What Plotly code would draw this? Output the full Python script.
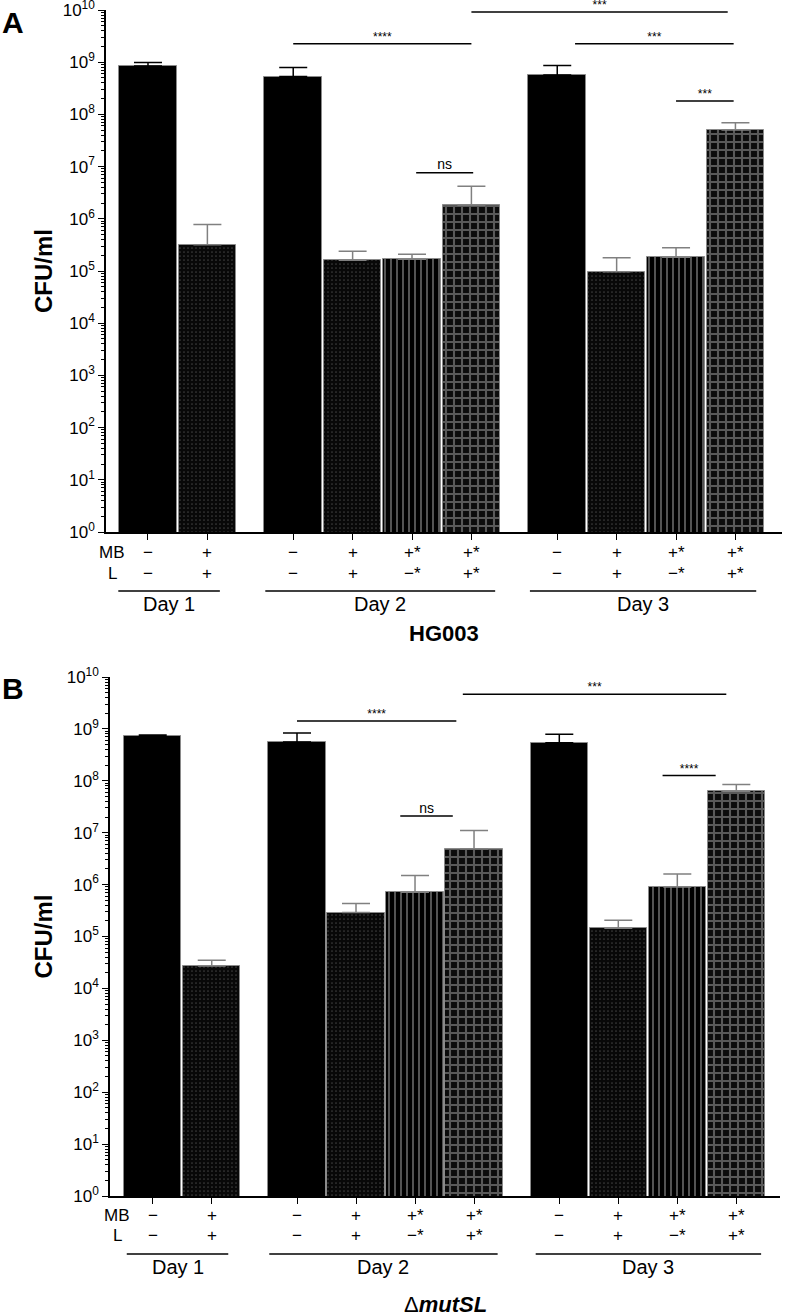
import numpy as np
import plotly.graph_objects as go

W, H = 792, 1316
FONT = "Liberation Sans, Arial, sans-serif"

# ---------------- data ----------------
days = ["Day 1", "Day 2", "Day 3"]
bar_day = [0, 0, 1, 1, 1, 1, 2, 2, 2, 2]
# treatment type: 0 = MB-/L-, 1 = MB+/L+, 2 = MB+*/L-*, 3 = MB+*/L+*
bar_type = [0, 1, 0, 1, 2, 3, 0, 1, 2, 3]
mb_labels = ["\u2212", "+", "\u2212", "+", "+*", "+*", "\u2212", "+", "+*", "+*"]
l_labels = ["\u2212", "+", "\u2212", "+", "\u2212*", "+*", "\u2212", "+", "\u2212*", "+*"]

hg003_mean = [8.5e8, 3.2e5, 5.3e8, 1.6e5, 1.67e5, 1.83e6, 5.7e8, 9.7e4, 1.83e5, 5.0e7]
hg003_upper = [9.9e8, 7.8e5, 7.9e8, 2.4e5, 2.1e5, 4.2e6, 8.6e8, 1.8e5, 2.8e5, 6.9e7]
mutsl_mean = [7.4e8, 2.7e4, 5.6e8, 2.9e5, 7.1e5, 4.9e6, 5.4e8, 1.44e5, 9.0e5, 6.3e7]
mutsl_upper = [7.6e8, 3.5e4, 8.3e8, 4.3e5, 1.5e6, 1.1e7, 7.9e8, 2.05e5, 1.6e6, 8.5e7]

# comparisons: (bar i, bar j, label)
hg003_sig = [(2, 5, "****"), (5, 9, "***"), (6, 9, "***"), (8, 9, "***"), (4, 5, "ns")]
mutsl_sig = [(2, 5, "****"), (5, 9, "***"), (8, 9, "****"), (4, 5, "ns")]

y_exponents = list(range(0, 11))

# ---------------- layout helpers ----------------
def px_x(p):
    return p / W

def px_y(p):
    return 1 - p / H

group_gap = 1.445
positions = []
offset = 0.0
for d in range(len(days)):
    n = bar_day.count(d)
    positions += [offset + k for k in range(n)]
    offset += (n - 1) + group_gap
positions = np.array(positions)

styles = {
    0: dict(color="black", pattern=None, err="black"),
    1: dict(color="#0a0a0a", pattern=dict(shape=".", bgcolor="#080808", fgcolor="#3c3c3c",
                                          size=4, solidity=0.15, fillmode="replace"), err="#808080"),
    2: dict(color="black", pattern=dict(shape="|", bgcolor="black", fgcolor="#9a9a9a",
                                        size=6, solidity=0.18, fillmode="replace"), err="#808080"),
    3: dict(color="#5a5a5a", pattern=dict(shape="+", bgcolor="#0c0c0c", fgcolor="#595959",
                                          size=8, solidity=0.45, fillmode="replace"), err="#808080"),
}

panels = [
    dict(mean=hg003_mean, upper=hg003_upper, sig=hg003_sig, xa="x", ya="y",
         xdom=(106, 782), ydom=(10, 532), xrange=(-0.707, 10.674),
         sig_layout=[(0.0, 0.0, 9.355), (0.0, -0.13, 9.96), (0.3, -0.03, 9.355),
                     (0.0, -0.03, 8.257), (0.07, 0.03, 6.88)],
         mb_y=552, l_y=573, rowlab_x=112, dayline_y=591, daytext_y=604,
         title="<b>HG003</b>", title_y=634, letter="A", letter_y=22,
         day_ext=[(-0.5, 0.21), (-0.47, 0.4), (-0.46, 0.35)]),
    dict(mean=mutsl_mean, upper=mutsl_upper, sig=mutsl_sig, xa="x2", ya="y2",
         xdom=(110, 780), ydom=(677, 1196), xrange=(-0.724, 10.63),
         sig_layout=[(0.0, -0.3, 9.15), (-0.19, -0.17, 9.67), (-0.25, -0.35, 8.10),
                     (-0.25, -0.36, 7.32)],
         mb_y=1215, l_y=1235, rowlab_x=117, dayline_y=1254, daytext_y=1267,
         title="\u0394<b><i>mutSL</i></b>", title_y=1304, letter="B", letter_y=688,
         day_ext=[(-0.44, 0.28), (-0.47, 0.4), (-0.4, 0.42)]),
]

fig = go.Figure()
annotations = []
shapes = []

def ann(**kw):
    kw.setdefault("showarrow", False)
    kw.setdefault("xanchor", "center")
    kw.setdefault("yanchor", "middle")
    annotations.append(kw)

for p in panels:
    mean = np.array(p["mean"])
    upper = np.array(p["upper"])
    for t in range(4):
        idx = [i for i, bt in enumerate(bar_type) if bt == t]
        st = styles[t]
        marker = dict(color=st["color"], line=dict(color="#8a8a8a", width=1))
        if st["pattern"] is not None:
            marker["pattern"] = st["pattern"]
        fig.add_trace(go.Bar(
            x=positions[idx], y=mean[idx], width=0.97, marker=marker,
            error_y=dict(type="data", symmetric=False, array=upper[idx] - mean[idx],
                         arrayminus=[0] * len(idx), color=st["err"], thickness=1.5, width=14),
            xaxis=p["xa"], yaxis=p["ya"], showlegend=False, hoverinfo="skip"))
    # significance brackets
    for (i, j, lab), (dx0, dx1, ylog) in zip(p["sig"], p["sig_layout"]):
        x0 = positions[i] + dx0
        x1 = positions[j] + dx1
        yv = 10 ** ylog
        fig.add_trace(go.Scatter(x=[x0, x1], y=[yv, yv], mode="lines",
                                 line=dict(color="black", width=1.5),
                                 xaxis=p["xa"], yaxis=p["ya"], showlegend=False,
                                 hoverinfo="skip", cliponaxis=False))
        fig.add_trace(go.Scatter(x=[(x0 + x1) / 2], y=[yv], mode="text", text=[lab],
                                 textposition="top center",
                                 textfont=dict(size=14 if lab == "ns" else 12, color="black", family=FONT),
                                 xaxis=p["xa"], yaxis=p["ya"], showlegend=False,
                                 hoverinfo="skip", cliponaxis=False))
    # MB / L rows
    for k in range(len(positions)):
        ann(x=positions[k], y=px_y(p["mb_y"]), xref=p["xa"], yref="paper",
            text=mb_labels[k], font=dict(size=17, family=FONT, color="black"))
        ann(x=positions[k], y=px_y(p["l_y"]), xref=p["xa"], yref="paper",
            text=l_labels[k], font=dict(size=17, family=FONT, color="black"))
    ann(x=px_x(p["rowlab_x"]), y=px_y(p["mb_y"]), xref="paper", yref="paper",
        text="MB", font=dict(size=17, family=FONT, color="black"))
    ann(x=px_x(p["rowlab_x"]), y=px_y(p["l_y"]), xref="paper", yref="paper",
        text="L", font=dict(size=17, family=FONT, color="black"))
    # day lines and labels
    for d, dname in enumerate(days):
        idx = [i for i, bd in enumerate(bar_day) if bd == d]
        a = positions[idx[0]] + p["day_ext"][d][0]
        b = positions[idx[-1]] + p["day_ext"][d][1]
        shapes.append(dict(type="line", xref=p["xa"], yref="paper", x0=a, x1=b,
                           y0=px_y(p["dayline_y"]), y1=px_y(p["dayline_y"]),
                           line=dict(color="black", width=1.5)))
        ann(x=(a + b) / 2, y=px_y(p["daytext_y"]), xref=p["xa"], yref="paper",
            text=dname, font=dict(size=20, family=FONT, color="black"))
    # x title
    ann(x=0.5, y=px_y(p["title_y"]), xref=p["xa"] + " domain", yref="paper",
        text=p["title"], font=dict(size=22, family=FONT, color="black"))
    # y title
    yc = (p["ydom"][0] + p["ydom"][1]) / 2
    ann(x=px_x(43), y=px_y(yc), xref="paper", yref="paper",
        text="<b>CFU/ml</b>", textangle=-90, font=dict(size=24, family=FONT, color="black"))
    # panel letter
    ann(x=px_x(13), y=px_y(p["letter_y"]), xref="paper", yref="paper",
        text="<b>%s</b>" % p["letter"], font=dict(size=30, family=FONT, color="black"))

minor_vals = [m * 10 ** e for e in y_exponents[:-1] for m in range(2, 10)]

def xaxis_cfg(p):
    return dict(domain=[px_x(p["xdom"][0]), px_x(p["xdom"][1])], range=list(p["xrange"]),
                anchor=p["ya"], showline=True, linecolor="black", linewidth=1.5,
                tickmode="array", tickvals=list(positions), ticks="outside", ticklen=6,
                tickwidth=1.2, tickcolor="black", showticklabels=False, showgrid=False,
                zeroline=False, fixedrange=True)

def yaxis_cfg(p):
    return dict(domain=[px_y(p["ydom"][1]), px_y(p["ydom"][0])], type="log", range=[0, 10],
                anchor=p["xa"], showline=True, linecolor="black", linewidth=1.5,
                tickmode="array", tickvals=[10 ** e for e in y_exponents],
                ticktext=["10<sup>%d</sup>" % e for e in y_exponents],
                ticklabeloverflow="allow",
                ticks="outside", ticklen=6, tickwidth=1.2, tickcolor="black",
                tickfont=dict(size=17, family=FONT, color="black"),
                minor=dict(tickmode="array", tickvals=minor_vals, ticks="outside",
                           ticklen=3, tickwidth=1, tickcolor="black", showgrid=False),
                showgrid=False, zeroline=False, fixedrange=True)

fig.update_layout(
    width=W, height=H, autosize=False,
    margin=dict(l=0, r=0, t=0, b=0, pad=0, autoexpand=False),
    paper_bgcolor="white", plot_bgcolor="white",
    bargap=0, barmode="overlay",
    font=dict(family=FONT, color="black"),
    xaxis=xaxis_cfg(panels[0]), yaxis=yaxis_cfg(panels[0]),
    xaxis2=xaxis_cfg(panels[1]), yaxis2=yaxis_cfg(panels[1]),
    annotations=annotations, shapes=shapes,
)

fig.write_html("out.html", config={"displayModeBar": False},
               post_script="document.body.style.margin='0px';")
